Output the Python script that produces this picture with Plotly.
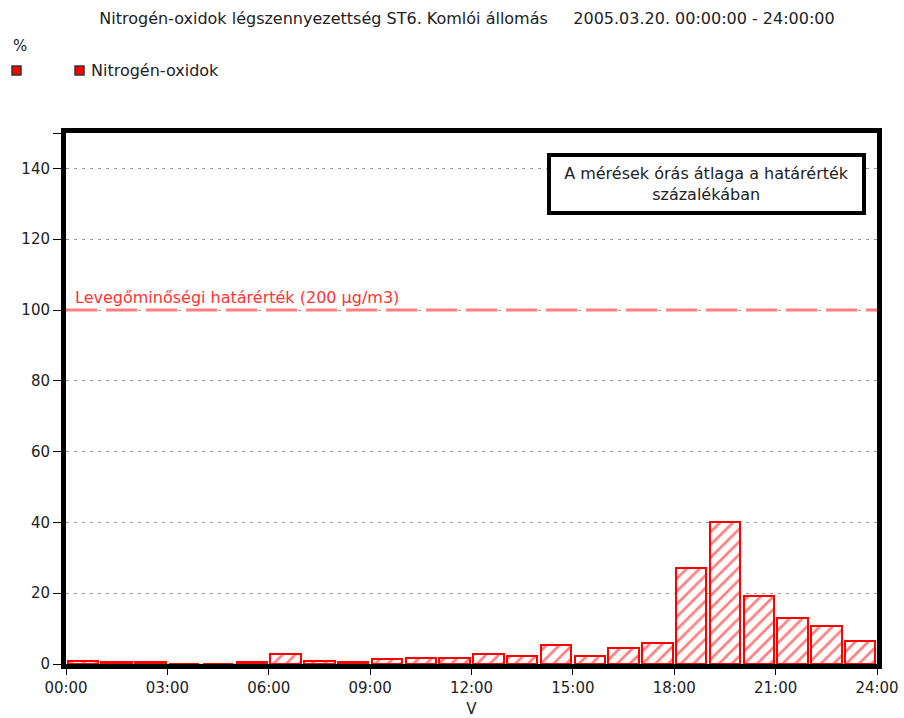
import plotly.graph_objects as go

# Hourly averages of nitrogen oxides as % of the limit value, ST6 Komló station
hours = list(range(24))
nox_percent = [0.8, 0.5, 0.5, 0.0, 0.0, 0.5, 2.7, 0.9, 0.5, 1.4, 1.8, 1.8,
               2.7, 2.4, 5.4, 2.4, 4.4, 5.9, 27.0, 40.0, 19.1, 13.1, 10.8, 6.6]
limit_percent = 100
x_tick_vals = [0, 3, 6, 9, 12, 15, 18, 21, 24]
x_tick_text = ["00:00", "03:00", "06:00", "09:00", "12:00", "15:00", "18:00", "21:00", "24:00"]
y_tick_vals = [0, 20, 40, 60, 80, 100, 120, 140, 150]
y_tick_text = ["0", "20", "40", "60", "80", "100", "120", "140", ""]

FONT = "DejaVu Sans"
TXT = "#222222"
RED = "#ff0000"

# plot area in pixels (used for placing paper-referenced decorations)
L, R, T, B = 66, 27, 133, 54
W, H = 904, 718
PW, PH = W - L - R, H - T - B


def px(x):
    return (x - L) / PW


def py(y):
    return (H - B - y) / PH


fig = go.Figure()
fig.add_trace(go.Bar(
    x=[h + 0.5 for h in hours],
    y=nox_percent,
    width=0.9,
    marker=dict(
        color="white",
        line=dict(color=RED, width=2),
        pattern=dict(shape="/", fgcolor=RED, bgcolor="white", size=9, solidity=0.3),
    ),
    showlegend=False,
    hoverinfo="x+y",
))

# limit value line
fig.add_shape(type="line", xref="paper", yref="y", x0=0, x1=1,
              y0=limit_percent, y1=limit_percent,
              line=dict(color="#ff8080", width=3, dash="31px,9px"))
fig.add_annotation(xref="paper", yref="y", x=px(73), y=limit_percent,
                   text="Levegőminőségi határérték (200 µg/m3)",
                   showarrow=False, xanchor="left", yanchor="bottom", yshift=1,
                   font=dict(family=FONT, size=16, color="#ff3333"))

# note box
fig.add_annotation(xref="paper", yref="paper", x=px(706), y=py(184),
                   text="A mérések órás átlaga a határérték<br>százalékában",
                   showarrow=False, xanchor="center", yanchor="middle",
                   bordercolor="black", borderwidth=4, borderpad=4, bgcolor="white",
                   width=303, height=46,
                   font=dict(family=FONT, size=16, color=TXT))

# unit and legend
fig.add_annotation(xref="paper", yref="paper", x=px(11), y=py(46),
                   xanchor="left", yanchor="middle", showarrow=False,
                   text="%", font=dict(family=FONT, size=15, color=TXT))
fig.add_annotation(xref="paper", yref="paper", x=px(89), y=py(70),
                   xanchor="left", yanchor="middle", showarrow=False,
                   text="Nitrogén-oxidok", font=dict(family=FONT, size=16, color=TXT))
for x0 in (12, 75):
    fig.add_shape(type="rect", xref="paper", yref="paper",
                  x0=px(x0), x1=px(x0 + 9),
                  y0=py(75), y1=py(66),
                  fillcolor=RED, line=dict(color="#333333", width=1.5))

fig.update_layout(
    width=W, height=H,
    margin=dict(l=L, r=R, t=T, b=B),
    paper_bgcolor="white", plot_bgcolor="white",
    title=dict(text="Nitrogén-oxidok légszennyezettség ST6. Komlói állomás\u00a0\u00a0\u00a0\u00a0\u00a02005.03.20. 00:00:00 - 24:00:00",
               x=467 / W, xanchor="center", y=1 - 18 / H, yanchor="middle",
               font=dict(family=FONT, size=16, color=TXT)),
    font=dict(family=FONT, size=15, color=TXT),
    bargap=0,
)
fig.update_xaxes(range=[0, 24], tickvals=x_tick_vals, ticktext=x_tick_text,
                 showline=True, linecolor="black", linewidth=5, mirror=True,
                 ticks="outside", ticklen=6, tickcolor="black", showgrid=False,
                 zeroline=False, automargin=False,
                 title=dict(text="V", standoff=10, font=dict(size=15)),
                 tickfont=dict(family=FONT, size=15, color=TXT))
fig.update_yaxes(range=[0, 150], tickvals=y_tick_vals, ticktext=y_tick_text,
                 showline=True, linecolor="black", linewidth=5, mirror=True,
                 ticks="outside", ticklen=8, tickcolor="black", automargin=False,
                 showgrid=True, gridcolor="#999999", gridwidth=1, griddash="3px,5px",
                 zeroline=False, tickfont=dict(family=FONT, size=15, color=TXT))

fig.write_html("out.html")
